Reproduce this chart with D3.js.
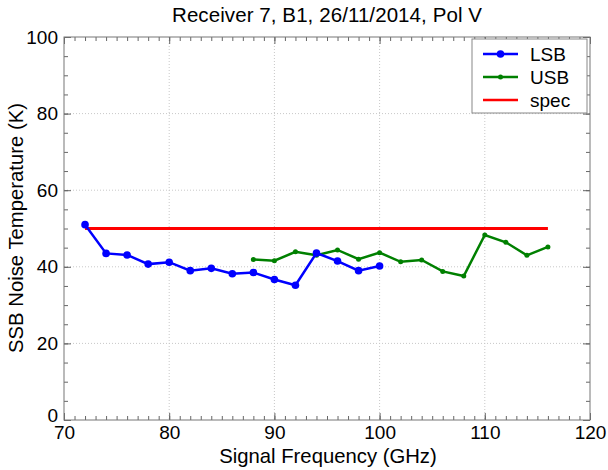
<!DOCTYPE html>
<html><head><meta charset="utf-8">
<script src="https://cdn.jsdelivr.net/npm/d3@7"></script>
<style>body{margin:0;background:#fff}svg text{font-family:"Liberation Sans",Arial,sans-serif;fill:#000}</style>
</head><body><svg id="c" width="608" height="470"></svg>
<script>
const lsbFreq = [72,74,76,78,80,82,84,86,88,90,92,94,96,98,100];
const lsbVals = [51.0,43.5,43.1,40.7,41.2,39.0,39.6,38.2,38.5,36.7,35.2,43.6,41.5,39.0,40.2];
const usbFreq = [88,90,92,94,96,98,100,102,104,106,108,110,112,114,116];
const usbVals = [41.9,41.6,43.9,43.0,44.4,42.0,43.7,41.3,41.8,38.8,37.6,48.3,46.4,43.0,45.2];
const specFreq = [72,116];
const specVals = [50,50];
const xTicks = [70,80,90,100,110,120];
const yTicks = [0,20,40,60,80,100];
const seriesNames = ["LSB","USB","spec"];
const seriesColors = ["#0000ff","#008000","#ff0000"];

const svg = d3.select("#c");
const L=64,R=590,T=37,B=420;
const x = d3.scaleLinear().domain([70,120]).range([L,R]);
const y = d3.scaleLinear().domain([0,100]).range([B,T]);

// grid
const g = svg.append("g");
g.selectAll(".gx").data(xTicks.slice(1,-1)).enter().append("line")
 .attr("x1",d=>x(d)).attr("x2",d=>x(d)).attr("y1",T).attr("y2",B)
 .attr("stroke","#c8c8c8").attr("stroke-width",1).attr("stroke-dasharray","1,2");
g.selectAll(".gy").data(yTicks.slice(1,-1)).enter().append("line")
 .attr("y1",d=>y(d)).attr("y2",d=>y(d)).attr("x1",L).attr("x2",R)
 .attr("stroke","#c8c8c8").attr("stroke-width",1).attr("stroke-dasharray","1,2");

// axes with inward ticks
const minorX = d3.range(70,121,1), minorY = d3.range(0,101,5);
function tickAxis(axisGen, tr){
  const a = svg.append("g").attr("transform",tr).call(axisGen);
  a.select(".domain").remove();
  a.selectAll("line").attr("stroke","#666");
  return a;
}
tickAxis(d3.axisBottom(x).tickValues(minorX).tickSize(-4).tickFormat(""),`translate(0,${B})`);
tickAxis(d3.axisTop(x).tickValues(minorX).tickSize(-4).tickFormat(""),`translate(0,${T})`);
tickAxis(d3.axisLeft(y).tickValues(minorY).tickSize(-4).tickFormat(""),`translate(${L},0)`);
tickAxis(d3.axisRight(y).tickValues(minorY).tickSize(-4).tickFormat(""),`translate(${R},0)`);
tickAxis(d3.axisBottom(x).tickValues(xTicks).tickSize(-7).tickFormat(""),`translate(0,${B})`);
tickAxis(d3.axisTop(x).tickValues(xTicks).tickSize(-7).tickFormat(""),`translate(0,${T})`);
tickAxis(d3.axisLeft(y).tickValues(yTicks).tickSize(-7).tickFormat(""),`translate(${L},0)`);
tickAxis(d3.axisRight(y).tickValues(yTicks).tickSize(-7).tickFormat(""),`translate(${R},0)`);

// tick labels
const xl = d3.axisBottom(x).tickValues(xTicks).tickSize(0).tickPadding(6);
const xa = svg.append("g").attr("transform",`translate(0,${B})`).call(xl);
xa.select(".domain").remove();
xa.selectAll("text").attr("font-size",19).attr("font-family","Liberation Sans, Arial, sans-serif").attr("fill","#000");
const yl = d3.axisLeft(y).tickValues(yTicks).tickSize(0).tickPadding(6);
const ya = svg.append("g").attr("transform",`translate(${L},0)`).call(yl);
ya.select(".domain").remove();
ya.selectAll("text").attr("font-size",19).attr("font-family","Liberation Sans, Arial, sans-serif").attr("fill","#000")
  .attr("dy",d=>d===0?"0.1em":"0.32em");

// frame
svg.append("rect").attr("x",L).attr("y",T).attr("width",R-L).attr("height",B-T)
 .attr("fill","none").attr("stroke","#777").attr("stroke-width",1);

const line = d3.line().x(d=>x(d[0])).y(d=>y(d[1]));
const lsb = lsbFreq.map((f,i)=>[f,lsbVals[i]]);
const usb = usbFreq.map((f,i)=>[f,usbVals[i]]);
const spec = specFreq.map((f,i)=>[f,specVals[i]]);

svg.append("path").datum(spec).attr("d",line).attr("fill","none").attr("stroke",seriesColors[2]).attr("stroke-width",3);
svg.append("path").datum(usb).attr("d",line).attr("fill","none").attr("stroke",seriesColors[1]).attr("stroke-width",2.5);
svg.selectAll(".pu").data(usb).enter().append("circle").attr("cx",d=>x(d[0])).attr("cy",d=>y(d[1])).attr("r",2.5).attr("fill",seriesColors[1]);
svg.append("path").datum(lsb).attr("d",line).attr("fill","none").attr("stroke",seriesColors[0]).attr("stroke-width",2.5);
svg.selectAll(".pl").data(lsb).enter().append("circle").attr("cx",d=>x(d[0])).attr("cy",d=>y(d[1])).attr("r",3.8).attr("fill",seriesColors[0]);

// legend
const lg = svg.append("g");
lg.append("rect").attr("x",472).attr("y",39).attr("width",115).attr("height",74).attr("fill","#fff").attr("stroke","#888");
seriesNames.forEach((n,i)=>{
  const yy = 54 + i*23;
  lg.append("line").attr("x1",483).attr("x2",518).attr("y1",yy).attr("y2",yy).attr("stroke",seriesColors[i]).attr("stroke-width",2.5);
  if(i<2) lg.append("circle").attr("cx",500.5).attr("cy",yy).attr("r",i==0?3.8:2.5).attr("fill",seriesColors[i]);
  lg.append("text").attr("x",530).attr("y",yy+7).attr("font-size",19).text(n);
});

// titles
svg.append("text").attr("x",327).attr("y",22).attr("text-anchor","middle").attr("font-size",20.5).attr("textLength",310).text("Receiver 7, B1, 26/11/2014, Pol V");
svg.append("text").attr("x",328).attr("y",463).attr("text-anchor","middle").attr("font-size",20.3).text("Signal Frequency (GHz)");
svg.append("text").attr("transform","translate(23,228) rotate(-90)").attr("text-anchor","middle").attr("font-size",20.3).text("SSB Noise Temperature (K)");
</script></body></html>
